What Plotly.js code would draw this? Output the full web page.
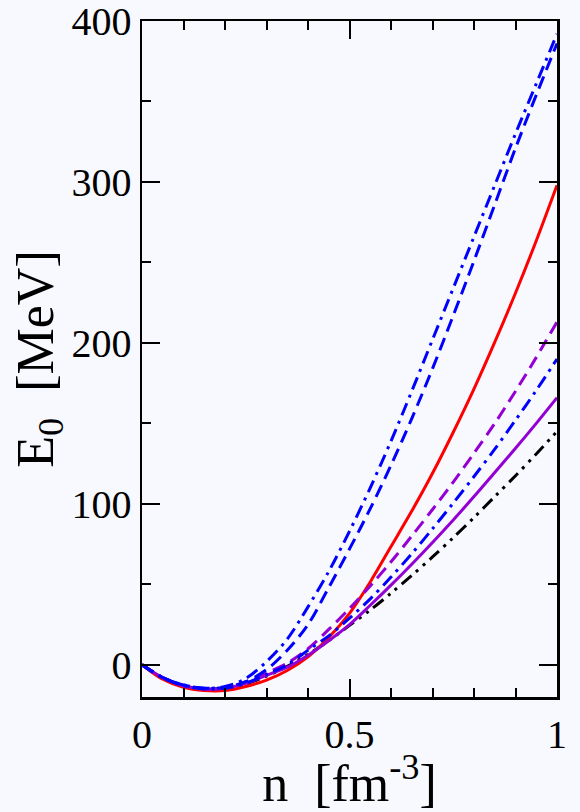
<!DOCTYPE html>
<html>
<head>
<meta charset="utf-8">
<script src="https://cdn.plot.ly/plotly-3.0.1.min.js"></script>
<style>
  html, body { margin: 0; padding: 0; background: #f8f8ff; }
  #chart { width: 580px; height: 812px; }
</style>
</head>
<body>
<div id="chart"></div>
<script>
// density n [fm^-3]
const density = [0, 0.05, 0.1, 0.15, 0.2, 0.25, 0.3, 0.35, 0.4, 0.45, 0.5, 0.55, 0.6, 0.65, 0.7, 0.75, 0.8, 0.85, 0.9, 0.95, 1.0];

// E0 [MeV] for each curve
const redSolid        = [0, -9, -14, -16, -16, -13.5, -9.5, -3.5, 5, 17, 32, 51.5, 73.5, 95.5, 119, 144.5, 171.5, 200.5, 231, 263.5, 298];
const purpleSolid     = [0, -8, -13, -15, -14.5, -11.5, -6.5, -1.5, 6, 15, 25, 37, 49.5, 62.5, 76, 90, 104.5, 119.5, 134.5, 150, 166];
const purpleDashed    = [0, -8, -13, -15, -14.5, -10.5, -5, 1, 10, 22, 35, 49, 64, 80, 96.5, 113.5, 131.5, 150, 170, 191, 213];
const blueDotDashLo   = [0, -8, -13, -15, -14.5, -11.5, -6, 0, 9, 18, 29, 41, 54.5, 69, 84.5, 100.5, 117, 134, 152, 170.5, 190];
const blueDashed      = [0, -8, -12.5, -14.5, -14, -10.5, -3, 9, 25, 48, 72, 97, 124, 153, 184, 217, 251, 286, 321, 354, 386];
const blueDotDashHi   = [0, -8, -12.5, -14.5, -13.5, -8.5, 2, 16, 36, 58, 83, 110, 139, 170, 202, 234, 266, 298, 330, 361, 392];
const blackDashDotDot = [0, -8, -13, -15, -14.5, -12, -7, -1, 6.5, 15, 24.5, 34, 44.5, 55.5, 67, 79, 91.5, 104.5, 117.5, 131, 145];

const xTickVals = [0, 0.5, 1];
const xTickText = ["0", "0.5", "1"];
const yTickVals = [0, 100, 200, 300, 400];
const yTickText = ["0", "100", "200", "300", "400"];

const DASH = "13px,7px";
const DASHDOT = "13px,6px,3px,6px";
const DASHDOTDOT = "13px,6px,3px,6px,3px,6px";
const W = 3;

function tr(y, color, dash) {
  return { x: density, y: y, type: "scatter", mode: "lines",
    line: { color: color, width: W, dash: dash, shape: "spline", smoothing: 0.9 },
    hoverinfo: "skip", showlegend: false };
}

const data = [
  tr(blackDashDotDot, "#000000", DASHDOTDOT),
  tr(redSolid, "#ff0000", "solid"),
  tr(purpleSolid, "#9400d3", "solid"),
  tr(purpleDashed, "#9400d3", DASH),
  tr(blueDotDashLo, "#0000ff", DASHDOT),
  tr(blueDashed, "#0000ff", DASH),
  tr(blueDotDashHi, "#0000ff", DASHDOT)
];

const axisFont = { family: "Liberation Serif, Times New Roman, serif", size: 40, color: "#000" };
const titleFont = { family: "Liberation Serif, Times New Roman, serif", size: 52, color: "#000" };

const layout = {
  width: 580, height: 812,
  paper_bgcolor: "#f8f8ff", plot_bgcolor: "#f8f8ff",
  margin: { l: 142, r: 23, t: 21, b: 115 },
  showlegend: false,
  xaxis: {
    range: [0, 1], tickmode: "array", tickvals: xTickVals, ticktext: xTickText,
    ticks: "inside", ticklen: 18, tickwidth: 2, tickcolor: "#000",
    showline: true, linecolor: "#000", linewidth: 2.5, mirror: "ticks",
    showgrid: false, zeroline: false, tickfont: axisFont, ticklabeloverflow: "allow",
    minor: { dtick: 0.1, ticks: "inside", ticklen: 9, tickwidth: 2, tickcolor: "#000", showgrid: false },
    title: { text: "n\u00A0\u00A0[fm<sup>-3</sup>]", font: titleFont, standoff: 10 },
    automargin: false
  },
  yaxis: {
    range: [-20, 400], tickmode: "array", tickvals: yTickVals, ticktext: yTickText,
    ticks: "inside", ticklen: 18, tickwidth: 2, tickcolor: "#000",
    showline: true, linecolor: "#000", linewidth: 2.5, mirror: "ticks",
    showgrid: false, zeroline: false, tickfont: axisFont, ticklabeloverflow: "allow",
    minor: { dtick: 50, ticks: "inside", ticklen: 9, tickwidth: 2, tickcolor: "#000", showgrid: false },
    title: { text: "E<sub>0</sub>\u00A0\u00A0[MeV]", font: titleFont, standoff: 0 },
    automargin: false
  }
};

Plotly.newPlot("chart", data, layout, { displayModeBar: false, staticPlot: true });
</script>
</body>
</html>
